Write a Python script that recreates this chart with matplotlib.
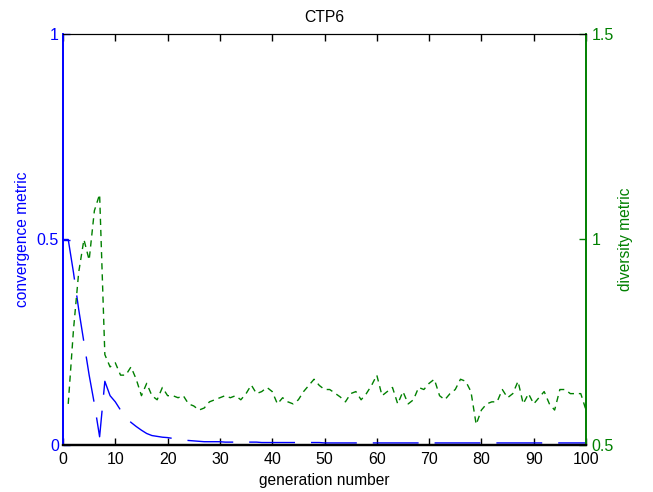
import matplotlib
matplotlib.use('Agg')
import matplotlib.pyplot as plt
import numpy as np

plt.rcParams['font.family'] = ['Liberation Sans', 'DejaVu Sans']

# convergence metric, generation 0..100
gen_conv = np.arange(0, 101)
conv = [0.50, 0.50, 0.42, 0.33, 0.25, 0.17, 0.10, 0.02, 0.155, 0.12,
        0.105, 0.085, 0.068, 0.055, 0.045, 0.036, 0.028, 0.023, 0.021, 0.019,
        0.018, 0.016, 0.014, 0.012, 0.011, 0.010, 0.009, 0.008, 0.008, 0.008,
        0.008, 0.007, 0.007, 0.007, 0.007, 0.007, 0.007, 0.007, 0.006, 0.006,
        0.006, 0.006, 0.006, 0.006, 0.006, 0.006, 0.006, 0.006, 0.006, 0.006,
        0.005, 0.005, 0.005, 0.005, 0.005, 0.005, 0.005, 0.005, 0.005, 0.005,
        0.005, 0.005, 0.005, 0.005, 0.005, 0.005, 0.005, 0.005, 0.005, 0.005,
        0.005, 0.005, 0.005, 0.005, 0.005, 0.005, 0.005, 0.005, 0.005, 0.005,
        0.005, 0.005, 0.005, 0.005, 0.005, 0.005, 0.005, 0.005, 0.005, 0.005,
        0.005, 0.005, 0.005, 0.005, 0.005, 0.005, 0.005, 0.005, 0.005, 0.005,
        0.005]

# diversity metric, generation 1..100
gen_div = np.arange(1, 101)
div = [0.60, 0.78, 0.92, 1.00, 0.95, 1.07, 1.11, 0.72, 0.69, 0.70,
       0.67, 0.67, 0.69, 0.66, 0.62, 0.65, 0.62, 0.61, 0.64, 0.62,
       0.62, 0.615, 0.62, 0.60, 0.595, 0.585, 0.59, 0.605, 0.61, 0.615,
       0.62, 0.615, 0.62, 0.61, 0.625, 0.646, 0.625, 0.63, 0.64, 0.63,
       0.60, 0.615, 0.605, 0.60, 0.61, 0.63, 0.645, 0.66, 0.645, 0.635,
       0.635, 0.626, 0.617, 0.605, 0.625, 0.63, 0.61, 0.625, 0.645, 0.67,
       0.62, 0.63, 0.64, 0.60, 0.63, 0.60, 0.61, 0.64, 0.635, 0.65,
       0.66, 0.62, 0.61, 0.625, 0.635, 0.66, 0.655, 0.63, 0.55, 0.585,
       0.60, 0.605, 0.605, 0.635, 0.615, 0.625, 0.655, 0.60, 0.625, 0.60,
       0.615, 0.63, 0.60, 0.585, 0.635, 0.635, 0.625, 0.625, 0.625, 0.585]

blue = '#0000ff'
green = '#008000'

fig = plt.figure(figsize=(6.53, 4.92), dpi=100)
ax = fig.add_axes([63/653, 1-445/492, (586-63)/653, (445-34)/492])
ax2 = ax.twinx()

l1, = ax.plot(gen_conv, conv, color=blue, lw=1)
l1.set_dashes([33, 11.5])
l2, = ax2.plot(gen_div, div, color=green, lw=1)
l2.set_dashes([4.5, 3.5])

ax.set_xlim(0, 100)
ax.set_ylim(0, 1)
ax2.set_ylim(0.5, 1.5)
ax.set_xticks(np.arange(0, 101, 10))
ax.set_yticks([0, 0.5, 1])
ax.set_yticklabels(['0', '0.5', '1'])
ax2.set_yticks([0.5, 1, 1.5])
ax2.set_yticklabels(['0.5', '1', '1.5'])

ax.tick_params(axis='x', direction='in', top=True, length=5, width=1,
               labelsize=11.5, colors='black', pad=5)
ax.tick_params(axis='y', direction='in', length=5, width=1,
               labelsize=11.5, colors=blue, pad=3)
ax2.tick_params(axis='y', direction='in', length=5, width=1,
                labelsize=11.5, colors=green, pad=4)

for a in (ax, ax2):
    a.spines['top'].set_color('black')
    a.spines['bottom'].set_color('black')
    a.spines['bottom'].set_linewidth(1.6)
    a.spines['left'].set_color(blue)
    a.spines['left'].set_linewidth(1.2)
    a.spines['right'].set_color(green)
    a.spines['right'].set_linewidth(1.2)

ax.set_xlabel('generation number', fontsize=11.2, labelpad=4)
ax.set_ylabel('convergence metric', fontsize=11.2, color=blue, labelpad=5)
ax2.set_ylabel('diversity metric', fontsize=11.2, color=green, labelpad=3)
ax.set_title('CTP6', fontsize=11.3, pad=9)

fig.savefig('out.png', dpi=100)
